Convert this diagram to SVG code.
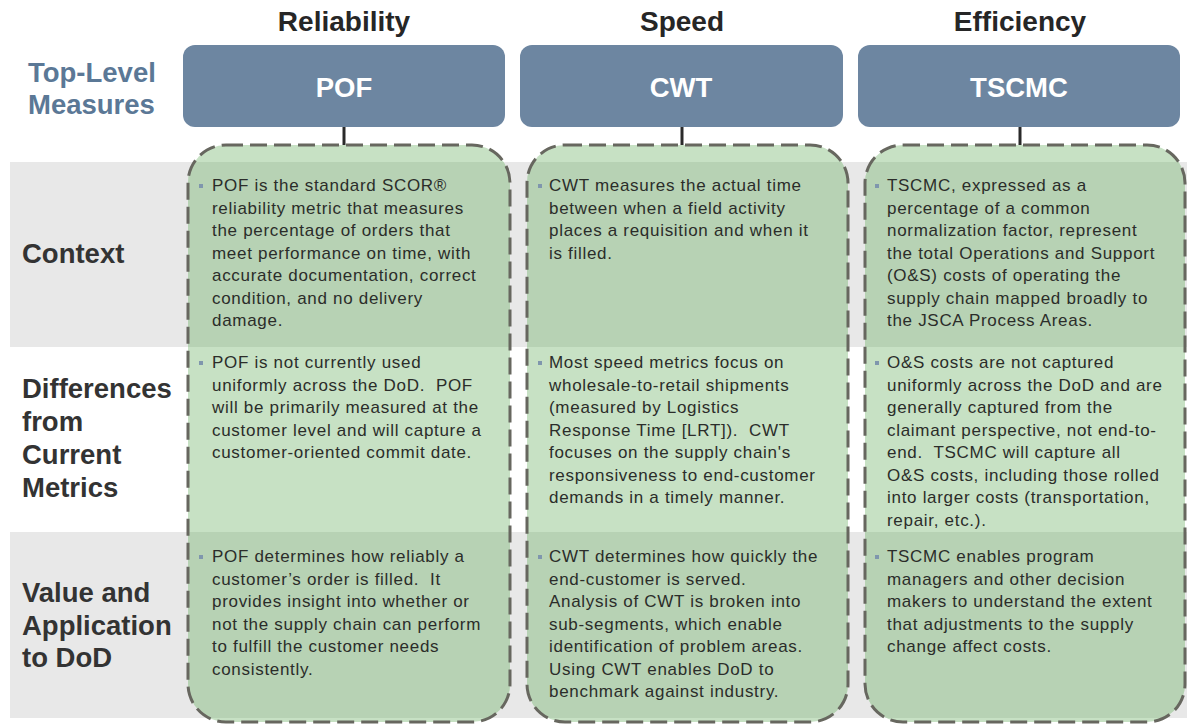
<svg xmlns="http://www.w3.org/2000/svg" width="1187" height="726" viewBox="0 0 1187 726">
<style>
.ttl{font-family:"Liberation Sans",Arial,sans-serif;font-weight:bold;font-size:28px;fill:#262626;text-anchor:middle}
.tl{font-family:"Liberation Sans",Arial,sans-serif;font-weight:bold;font-size:27.5px;fill:#5b7896}
.hdr{fill:#6d86a1}
.ht{font-family:"Liberation Sans",Arial,sans-serif;font-weight:bold;font-size:27.5px;fill:#ffffff;text-anchor:middle}
.rl{font-family:"Liberation Sans",Arial,sans-serif;font-weight:bold;font-size:27.5px;fill:#333333}
.band{fill:#e8e8e8}
.box{fill:#c7e1c4}
.boxd{fill:#b7d2b4}
.dash{fill:none;stroke:#67675f;stroke-width:3;stroke-dasharray:17 7}
.bt{font-family:"Liberation Sans",Arial,sans-serif;font-size:17px;letter-spacing:0.7px;fill:#2b2d2a;white-space:pre}
.bul{fill:#7f96ad}
.con{stroke:#2a2a2a;stroke-width:3}
</style>
<defs>
<clipPath id="boxclip">
<rect x="188" y="145" width="322" height="577" rx="38"/>
<rect x="527" y="145" width="321" height="577" rx="38"/>
<rect x="865" y="145" width="320" height="577" rx="38"/>
</clipPath>
</defs>
<rect width="1187" height="726" fill="#ffffff"/>
<g id="bands">
<rect class="band" x="10" y="162" width="1177" height="185"/>
<rect class="band" x="10" y="532" width="1177" height="186"/>
</g>
<g id="column-titles">
<text class="ttl" x="344" y="31">Reliability</text>
<text class="ttl" x="682" y="31">Speed</text>
<text class="ttl" x="1020" y="31">Efficiency</text>
</g>
<g id="row-labels">
<text class="tl" x="28" y="82">Top-Level</text>
<text class="tl" x="28" y="114">Measures</text>
<text class="rl" x="22" y="263">Context</text>
<text class="rl" x="22" y="398">Differences</text>
<text class="rl" x="22" y="431">from</text>
<text class="rl" x="22" y="464">Current</text>
<text class="rl" x="22" y="497">Metrics</text>
<text class="rl" x="22" y="602">Value and</text>
<text class="rl" x="22" y="635">Application</text>
<text class="rl" x="22" y="667">to DoD</text>
</g>
<g id="connectors">
<line class="con" x1="344" y1="126" x2="344" y2="145"/>
<line class="con" x1="682" y1="126" x2="682" y2="145"/>
<line class="con" x1="1020" y1="126" x2="1020" y2="145"/>
</g>
<g id="node-pof-header">
<rect class="hdr" x="183" y="45" width="322" height="82" rx="12"/>
<text class="ht" x="344" y="97">POF</text>
</g>
<g id="node-cwt-header">
<rect class="hdr" x="520" y="45" width="323" height="82" rx="12"/>
<text class="ht" x="681" y="97">CWT</text>
</g>
<g id="node-tscmc-header">
<rect class="hdr" x="858" y="45" width="322" height="82" rx="12"/>
<text class="ht" x="1019" y="97">TSCMC</text>
</g>
<g id="box-fills">
<rect class="box" x="188" y="145" width="322" height="577" rx="38"/>
<rect class="box" x="527" y="145" width="321" height="577" rx="38"/>
<rect class="box" x="865" y="145" width="320" height="577" rx="38"/>
<g clip-path="url(#boxclip)">
<rect class="boxd" x="180" y="162" width="1007" height="185"/>
<rect class="boxd" x="180" y="532" width="1007" height="186"/>
</g>
</g>
<g id="node-pof">
<rect class="dash" x="188" y="145" width="322" height="577" rx="38"/>
<rect class="bul" x="199" y="184" width="4" height="4"/>
<text class="bt" x="212" y="191">POF is the standard SCOR®</text>
<text class="bt" x="212" y="213.5">reliability metric that measures</text>
<text class="bt" x="212" y="236">the percentage of orders that</text>
<text class="bt" x="212" y="258.5">meet performance on time, with</text>
<text class="bt" x="212" y="281">accurate documentation, correct</text>
<text class="bt" x="212" y="303.5">condition, and no delivery</text>
<text class="bt" x="212" y="326">damage.</text>
<rect class="bul" x="199" y="361" width="4" height="4"/>
<text class="bt" x="212" y="368">POF is not currently used</text>
<text class="bt" x="212" y="390.5">uniformly across the DoD.  POF</text>
<text class="bt" x="212" y="413">will be primarily measured at the</text>
<text class="bt" x="212" y="435.5">customer level and will capture a</text>
<text class="bt" x="212" y="458">customer-oriented commit date.</text>
<rect class="bul" x="199" y="555" width="4" height="4"/>
<text class="bt" x="212" y="562">POF determines how reliably a</text>
<text class="bt" x="212" y="584.5">customer’s order is filled.  It</text>
<text class="bt" x="212" y="607">provides insight into whether or</text>
<text class="bt" x="212" y="629.5">not the supply chain can perform</text>
<text class="bt" x="212" y="652">to fulfill the customer needs</text>
<text class="bt" x="212" y="674.5">consistently.</text>
</g>
<g id="node-cwt">
<rect class="dash" x="527" y="145" width="321" height="577" rx="38"/>
<rect class="bul" x="538" y="184" width="4" height="4"/>
<text class="bt" x="549" y="191">CWT measures the actual time</text>
<text class="bt" x="549" y="213.5">between when a field activity</text>
<text class="bt" x="549" y="236">places a requisition and when it</text>
<text class="bt" x="549" y="258.5">is filled.</text>
<rect class="bul" x="538" y="361" width="4" height="4"/>
<text class="bt" x="549" y="368">Most speed metrics focus on</text>
<text class="bt" x="549" y="390.5">wholesale-to-retail shipments</text>
<text class="bt" x="549" y="413">(measured by Logistics</text>
<text class="bt" x="549" y="435.5">Response Time [LRT]).  CWT</text>
<text class="bt" x="549" y="458">focuses on the supply chain's</text>
<text class="bt" x="549" y="480.5">responsiveness to end-customer</text>
<text class="bt" x="549" y="503">demands in a timely manner.</text>
<rect class="bul" x="538" y="555" width="4" height="4"/>
<text class="bt" x="549" y="562">CWT determines how quickly the</text>
<text class="bt" x="549" y="584.5">end-customer is served.</text>
<text class="bt" x="549" y="607">Analysis of CWT is broken into</text>
<text class="bt" x="549" y="629.5">sub-segments, which enable</text>
<text class="bt" x="549" y="652">identification of problem areas.</text>
<text class="bt" x="549" y="674.5">Using CWT enables DoD to</text>
<text class="bt" x="549" y="697">benchmark against industry.</text>
</g>
<g id="node-tscmc">
<rect class="dash" x="865" y="145" width="320" height="577" rx="38"/>
<rect class="bul" x="875" y="184" width="4" height="4"/>
<text class="bt" x="887" y="191">TSCMC, expressed as a</text>
<text class="bt" x="887" y="213.5">percentage of a common</text>
<text class="bt" x="887" y="236">normalization factor, represent</text>
<text class="bt" x="887" y="258.5">the total Operations and Support</text>
<text class="bt" x="887" y="281">(O&amp;S) costs of operating the</text>
<text class="bt" x="887" y="303.5">supply chain mapped broadly to</text>
<text class="bt" x="887" y="326">the JSCA Process Areas.</text>
<rect class="bul" x="875" y="361" width="4" height="4"/>
<text class="bt" x="887" y="368">O&amp;S costs are not captured</text>
<text class="bt" x="887" y="390.5">uniformly across the DoD and are</text>
<text class="bt" x="887" y="413">generally captured from the</text>
<text class="bt" x="887" y="435.5">claimant perspective, not end-to-</text>
<text class="bt" x="887" y="458">end.  TSCMC will capture all</text>
<text class="bt" x="887" y="480.5">O&amp;S costs, including those rolled</text>
<text class="bt" x="887" y="503">into larger costs (transportation,</text>
<text class="bt" x="887" y="525.5">repair, etc.).</text>
<rect class="bul" x="875" y="555" width="4" height="4"/>
<text class="bt" x="887" y="562">TSCMC enables program</text>
<text class="bt" x="887" y="584.5">managers and other decision</text>
<text class="bt" x="887" y="607">makers to understand the extent</text>
<text class="bt" x="887" y="629.5">that adjustments to the supply</text>
<text class="bt" x="887" y="652">change affect costs.</text>
</g>
</svg>
